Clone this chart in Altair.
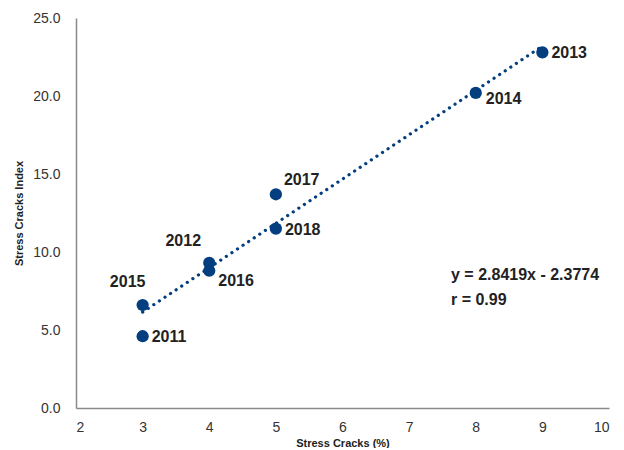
import altair as alt
import pandas as pd

years = ["2011", "2012", "2013", "2014", "2015", "2016", "2017", "2018"]
stress_cracks = [3, 4, 9, 8, 3, 4, 5, 5]
stress_index = [4.6, 9.3, 22.8, 20.2, 6.6, 8.8, 13.7, 11.5]
placement = ["right", "aboveleft2", "right", "rightlow", "aboveleft", "rightlow2", "aboveright", "right"]
equation_lines = ["y = 2.8419x - 2.3774", "r = 0.99"]

df = pd.DataFrame({"year": years, "x": stress_cracks, "y": stress_index, "pos": placement})

BLUE = "#033f7e"
FONT = "Liberation Sans, Arial"

base = alt.Chart(df)

xs = alt.X("x:Q", scale=alt.Scale(domain=[2, 10], nice=False),
           axis=alt.Axis(title="Stress Cracks (%)", values=list(range(2, 11)), grid=False,
                         ticks=False, tickSize=0, labelPadding=12, domainColor="#8a8a8a",
                         domainWidth=1.5, labelFont=FONT, labelFontSize=14, labelColor="#333333",
                         titleFont="Liberation Sans", titleFontSize=11, titleFontWeight="bold",
                         titleColor="#222222", titlePadding=3))
ys = alt.Y("y:Q", scale=alt.Scale(domain=[0, 25], nice=False),
           axis=alt.Axis(title="Stress Cracks Index", values=[0, 5, 10, 15, 20, 25], format=".1f",
                         grid=False, ticks=False, tickSize=0, labelPadding=16, domainColor="#8a8a8a",
                         domainWidth=1.5, labelFont=FONT, labelFontSize=14, labelColor="#333333",
                         titleFont="Liberation Sans", titleFontSize=11, titleFontWeight="bold",
                         titleColor="#222222", titlePadding=8))

trend = base.transform_regression("x", "y", extent=[3, 9]).mark_line(
    color=BLUE, strokeWidth=3.2, strokeDash=[0.1, 6.6], strokeCap="round"
).encode(x=xs, y=ys)

pts = base.mark_circle(size=150, color=BLUE, opacity=1).encode(x=xs, y=ys)

offsets = {
    "right": dict(dx=9, dy=1, align="left"),
    "rightlow": dict(dx=10, dy=6, align="left"),
    "rightlow2": dict(dx=9, dy=10, align="left"),
    "aboveright": dict(dx=8, dy=-14, align="left"),
    "aboveleft": dict(dx=-15, dy=-23, align="center"),
    "aboveleft2": dict(dx=-26, dy=-22, align="center"),
}

labels = []
for key, o in offsets.items():
    labels.append(
        base.transform_filter(alt.datum.pos == key).mark_text(
            font=FONT, fontSize=16, fontWeight="bold", color="#222222", baseline="middle", **o
        ).encode(x=xs, y=ys, text="year:N")
    )

eq_layers = []
for line, ypix in zip(equation_lines, [257, 282]):
    eq_layers.append(
        alt.Chart(pd.DataFrame({"t": [line]})).mark_text(
            font=FONT, fontSize=16, fontWeight="bold", color="#222222", align="left", baseline="middle"
        ).encode(x=alt.value(375), y=alt.value(ypix), text="t:N")
    )

chart = alt.layer(trend, pts, *labels, *eq_layers).properties(
    width=533, height=390,
    autosize=alt.AutoSizeParams(type="none"),
    padding={"left": 68, "top": 10, "right": 5, "bottom": 40},
).configure_view(stroke=None)

chart.save("out.html", embed_options={"renderer": "svg", "actions": False})
